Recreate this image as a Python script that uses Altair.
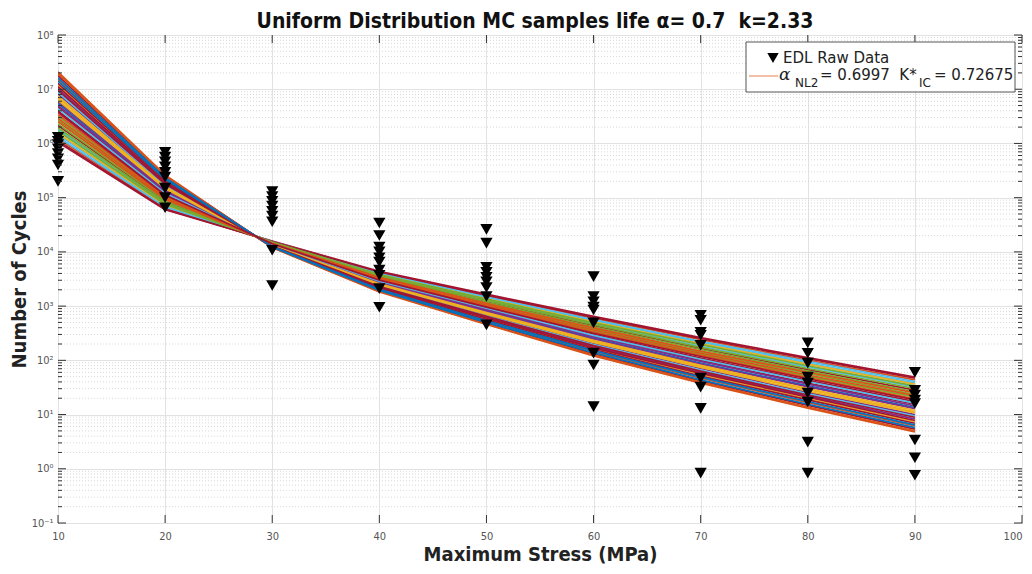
import altair as alt
import pandas as pd

# ---------------- data ----------------
stress_levels = [10, 20, 30, 40, 50, 60, 70, 80, 90]

# Monte-Carlo sample life curves: log10(number of cycles) at each stress level
# (listed in drawing order)
mc_log10_cycles = [
    [7.32, 5.42, 4.08, 3.26, 2.66, 2.08, 1.58, 1.12, 0.68],
    [6.74, 5.13, 4.13, 3.43, 2.91, 2.41, 1.95, 1.53, 1.13],
    [6.16, 4.85, 4.19, 3.60, 3.16, 2.73, 2.33, 1.95, 1.58],
    [6.91, 5.22, 4.12, 3.38, 2.84, 2.31, 1.85, 1.41, 1.00],
    [6.33, 4.93, 4.17, 3.55, 3.08, 2.64, 2.22, 1.83, 1.45],
    [7.08, 5.30, 4.10, 3.33, 2.76, 2.22, 1.74, 1.29, 0.87],
    [6.50, 5.02, 4.16, 3.50, 3.01, 2.54, 2.11, 1.71, 1.32],
    [7.25, 5.39, 4.09, 3.28, 2.69, 2.12, 1.62, 1.17, 0.73],
    [6.67, 5.10, 4.14, 3.45, 2.94, 2.45, 2.00, 1.58, 1.19],
    [6.09, 4.81, 4.19, 3.62, 3.19, 2.77, 2.38, 2.00, 1.64],
    [6.84, 5.18, 4.12, 3.40, 2.87, 2.35, 1.89, 1.46, 1.05],
    [6.26, 4.90, 4.17, 3.57, 3.11, 2.68, 2.26, 1.88, 1.51],
    [7.01, 5.27, 4.11, 3.35, 2.79, 2.25, 1.78, 1.34, 0.92],
    [6.43, 4.98, 4.16, 3.52, 3.04, 2.58, 2.15, 1.76, 1.37],
    [7.18, 5.35, 4.09, 3.30, 2.72, 2.16, 1.67, 1.22, 0.79],
    [6.60, 5.07, 4.14, 3.47, 2.97, 2.48, 2.04, 1.63, 1.24],
    [6.02, 4.78, 4.20, 3.64, 3.22, 2.81, 2.42, 2.05, 1.69],
    [6.77, 5.15, 4.13, 3.42, 2.90, 2.39, 1.93, 1.51, 1.11],
    [6.19, 4.86, 4.18, 3.59, 3.14, 2.71, 2.31, 1.93, 1.56],
    [6.94, 5.23, 4.11, 3.37, 2.82, 2.29, 1.82, 1.38, 0.97],
    [6.36, 4.95, 4.17, 3.54, 3.07, 2.62, 2.20, 1.80, 1.42],
    [7.11, 5.32, 4.10, 3.32, 2.75, 2.20, 1.71, 1.27, 0.84],
    [6.53, 5.03, 4.15, 3.49, 3.00, 2.52, 2.09, 1.68, 1.29],
    [7.29, 5.40, 4.08, 3.27, 2.67, 2.10, 1.60, 1.14, 0.70],
    [6.70, 5.12, 4.14, 3.44, 2.93, 2.43, 1.98, 1.56, 1.16],
    [6.12, 4.83, 4.19, 3.61, 3.17, 2.75, 2.35, 1.98, 1.61],
    [6.87, 5.20, 4.12, 3.39, 2.85, 2.33, 1.87, 1.43, 1.03],
    [6.29, 4.91, 4.17, 3.56, 3.10, 2.66, 2.24, 1.85, 1.48],
    [7.05, 5.29, 4.11, 3.34, 2.78, 2.23, 1.76, 1.32, 0.89],
    [6.46, 5.00, 4.16, 3.51, 3.02, 2.56, 2.13, 1.73, 1.35],
    [7.21, 5.37, 4.09, 3.29, 2.70, 2.14, 1.64, 1.19, 0.76],
    [6.64, 5.08, 4.14, 3.46, 2.96, 2.46, 2.02, 1.61, 1.21],
    [6.05, 4.79, 4.19, 3.63, 3.20, 2.79, 2.40, 2.03, 1.67],
    [6.80, 5.17, 4.12, 3.41, 2.88, 2.37, 1.91, 1.48, 1.08],
    [6.23, 4.88, 4.18, 3.58, 3.13, 2.69, 2.29, 1.90, 1.53],
    [6.98, 5.25, 4.11, 3.36, 2.81, 2.27, 1.80, 1.36, 0.95],
    [6.40, 4.97, 4.16, 3.53, 3.05, 2.60, 2.17, 1.78, 1.40],
    [7.15, 5.34, 4.10, 3.31, 2.73, 2.18, 1.69, 1.24, 0.81],
    [6.57, 5.05, 4.15, 3.48, 2.98, 2.50, 2.07, 1.66, 1.27],
]

# colour slot (MATLAB colour order) of each curve, in drawing order
mc_color_slot = [1, 0, 5, 3, 6, 2, 4, 6, 6, 1, 2, 5, 3, 4, 1, 6, 6, 3, 2, 5,
                 4, 6, 1, 1, 3, 5, 2, 4, 6, 1, 0, 5, 6, 2, 4, 6, 1, 0, 6]

# EDL raw data (number of cycles to failure) at each stress level
edl_10 = [1.3e6, 1.1e6, 9.5e5, 8.0e5, 6.5e5, 5.2e5, 4.0e5, 2.0e5]
edl_20 = [6.9e5, 5.6e5, 4.6e5, 3.7e5, 2.95e5, 2.4e5, 1.5e5, 1.0e5, 6.5e4]
edl_30 = [1.3e5, 1.05e5, 8.6e4, 7.0e4, 5.6e4, 4.6e4, 3.6e4, 1.07e4, 2.4e3]
edl_40 = [3.4e4, 2.0e4, 1.23e4, 1.0e4, 7.8e3, 6.5e3, 4.6e3, 3.7e3, 2.1e3, 950]
edl_50 = [2.6e4, 1.45e4, 5.2e3, 4.2e3, 3.4e3, 2.8e3, 2.2e3, 1.5e3, 450]
edl_60 = [3.5e3, 1.5e3, 1.2e3, 960, 850, 490, 136, 82, 14]
edl_70 = [680, 550, 330, 290, 190, 47, 32, 13, 0.83]
edl_80 = [210, 135, 89, 49, 38, 25, 17, 3.1, 0.83]
edl_90 = [60, 28, 23, 18.5, 16, 3.4, 1.6, 0.76]

x_ticks = [10, 20, 30, 40, 50, 60, 70, 80, 90, 100]
y_major = [1e-1, 1e0, 1e1, 1e2, 1e3, 1e4, 1e5, 1e6, 1e7, 1e8]
y_minor = [m * d for d in y_major[:-1] for m in range(2, 10)]

matlab_colors = ["#0072BD", "#D95319", "#EDB120", "#7E2F8E", "#77AC30", "#4DBEEE", "#A2142F"]

title_text = "Uniform Distribution MC samples life α= 0.7\u00a0\u00a0k=2.33"

# ---------------- tables ----------------
rows = []
for i, curve in enumerate(mc_log10_cycles):
    for s, e in zip(stress_levels, curve):
        rows.append({"sample": i, "slot": mc_color_slot[i], "stress": s, "cycles": 10 ** e})
mc_df = pd.DataFrame(rows)

edl_rows = []
for s, vals in zip(stress_levels, [edl_10, edl_20, edl_30, edl_40, edl_50, edl_60, edl_70, edl_80, edl_90]):
    for v in vals:
        edl_rows.append({"stress": s, "cycles": v})
edl_df = pd.DataFrame(edl_rows)

W, H = 964, 488
X_SCALE = alt.Scale(domain=[10, 100], nice=False, zero=False)
Y_SCALE = alt.Scale(type="log", domain=[0.1, 1e8], nice=False)

tick_font = "Liberation Sans Narrow, DejaVu Sans Condensed, Roboto, sans-serif"
title_font = "DejaVu Sans Condensed, DejaVu Sans, sans-serif"
leg_font = "DejaVu Sans, sans-serif"

x_enc = alt.X("stress:Q", scale=X_SCALE,
              axis=alt.Axis(values=x_ticks, title="Maximum Stress (MPa)", ticks=False,
                            labelPadding=7, titlePadding=3, grid=True,
                            labelAlign={"condition": {"test": "datum.value == 100", "value": "right"},
                                        "value": "center"}))
y_enc = alt.Y("cycles:Q", scale=Y_SCALE,
              axis=alt.Axis(values=y_major, title="Number of Cycles", ticks=False,
                            labelPadding=5, titlePadding=2, grid=True,
                            labelExpr="'10' + ['⁻¹','⁰','¹','²','³','⁴','⁵','⁶','⁷','⁸'][round(log(datum.value)/LN10)+1]"))

minor_df = pd.DataFrame({"cycles": y_minor})
minor_grid = alt.Chart(minor_df).mark_rule(color="#d9d9d9", strokeDash=[1, 2], strokeWidth=1).encode(
    y=alt.Y("cycles:Q", scale=Y_SCALE), x=alt.value(0), x2=alt.value(W))

lines = alt.Chart(mc_df).mark_line(strokeWidth=1.7, clip=True).encode(
    x=x_enc, y=y_enc,
    color=alt.Color("slot:N", scale=alt.Scale(domain=list(range(7)), range=matlab_colors), legend=None),
    detail="sample:N")

markers = alt.Chart(edl_df).mark_point(shape="triangle-down", filled=True, color="black",
                                       size=150, opacity=1).encode(
    x=alt.X("stress:Q", scale=X_SCALE), y=alt.Y("cycles:Q", scale=Y_SCALE))

# inward tick marks (box style)
xt_df = pd.DataFrame({"stress": x_ticks})
xt_bot = alt.Chart(xt_df).mark_rule(color="#333").encode(
    x=alt.X("stress:Q", scale=X_SCALE), y=alt.value(H), y2=alt.value(H - 8))
xt_top = alt.Chart(xt_df).mark_rule(color="#333").encode(
    x=alt.X("stress:Q", scale=X_SCALE), y=alt.value(0), y2=alt.value(8))
yt_df = pd.DataFrame({"cycles": y_major})
yt_left = alt.Chart(yt_df).mark_rule(color="#333").encode(
    y=alt.Y("cycles:Q", scale=Y_SCALE), x=alt.value(0), x2=alt.value(8))
yt_right = alt.Chart(yt_df).mark_rule(color="#333").encode(
    y=alt.Y("cycles:Q", scale=Y_SCALE), x=alt.value(W), x2=alt.value(W - 8))
ym_left = alt.Chart(minor_df).mark_rule(color="#333").encode(
    y=alt.Y("cycles:Q", scale=Y_SCALE), x=alt.value(0), x2=alt.value(4))
ym_right = alt.Chart(minor_df).mark_rule(color="#333").encode(
    y=alt.Y("cycles:Q", scale=Y_SCALE), x=alt.value(W), x2=alt.value(W - 4))

one = pd.DataFrame({"k": [0]})

# chart title (as a text mark so it sits exactly above the plot)
title_mark = alt.Chart(one).mark_text(text=title_text, align="center", baseline="alphabetic",
                                      fontSize=21, font=title_font, fontWeight="bold",
                                      color="#111").encode(x=alt.value(477), y=alt.value(-7))

# legend box
leg_box = alt.Chart(one).mark_rect(fill="white", stroke="#555", strokeWidth=1).encode(
    x=alt.value(688), x2=alt.value(957), y=alt.value(7), y2=alt.value(57))
leg_tri = alt.Chart(one).mark_point(shape="triangle-down", filled=True, color="black", size=130, opacity=1).encode(
    x=alt.value(715), y=alt.value(23))
leg_t1 = alt.Chart(one).mark_text(text="EDL Raw Data", align="left", baseline="middle", fontSize=15,
                                  font=leg_font, color="#222").encode(x=alt.value(725), y=alt.value(23))
leg_line = alt.Chart(one).mark_rule(color="#E8956A", strokeWidth=1.2).encode(
    x=alt.value(691), x2=alt.value(720), y=alt.value(41))
leg_a = alt.Chart(one).mark_text(text="α", align="left", baseline="middle", fontSize=17, fontStyle="italic",
                                 font="DejaVu Serif, serif", color="#222").encode(x=alt.value(721), y=alt.value(40))
leg_nl2 = alt.Chart(one).mark_text(text="NL2", align="left", baseline="middle", fontSize=12,
                                   font=leg_font, color="#222").encode(x=alt.value(737), y=alt.value(48))
leg_t2 = alt.Chart(one).mark_text(text="= 0.6997\u00a0\u00a0K*", align="left", baseline="middle", fontSize=15,
                                  font=leg_font, color="#222").encode(x=alt.value(762), y=alt.value(40))
leg_ic = alt.Chart(one).mark_text(text="IC", align="left", baseline="middle", fontSize=12,
                                  font=leg_font, color="#222").encode(x=alt.value(861), y=alt.value(48))
leg_t3 = alt.Chart(one).mark_text(text="= 0.72675", align="left", baseline="middle", fontSize=15,
                                  font=leg_font, color="#222").encode(x=alt.value(876), y=alt.value(40))

chart = alt.layer(
    minor_grid, lines, markers, xt_bot, xt_top, yt_left, yt_right, ym_left, ym_right,
    title_mark, leg_box, leg_tri, leg_t1, leg_line, leg_a, leg_nl2, leg_t2, leg_ic, leg_t3
).properties(
    width=W, height=H,
    autosize=alt.AutoSizeParams(type="none"),
    padding={"left": 50, "top": 27, "right": 2, "bottom": 43},
    background="white",
).configure_view(stroke="#444", strokeWidth=1).configure_axis(
    domain=False, gridColor="#e2e2e2", gridWidth=1,
    labelFont=tick_font, labelFontSize=11, labelColor="#555",
    titleFont=title_font, titleFontSize=20, titleFontWeight="bold", titleColor="#222",
)

chart.save("out.html", embed_options={"renderer": "svg", "actions": False})
